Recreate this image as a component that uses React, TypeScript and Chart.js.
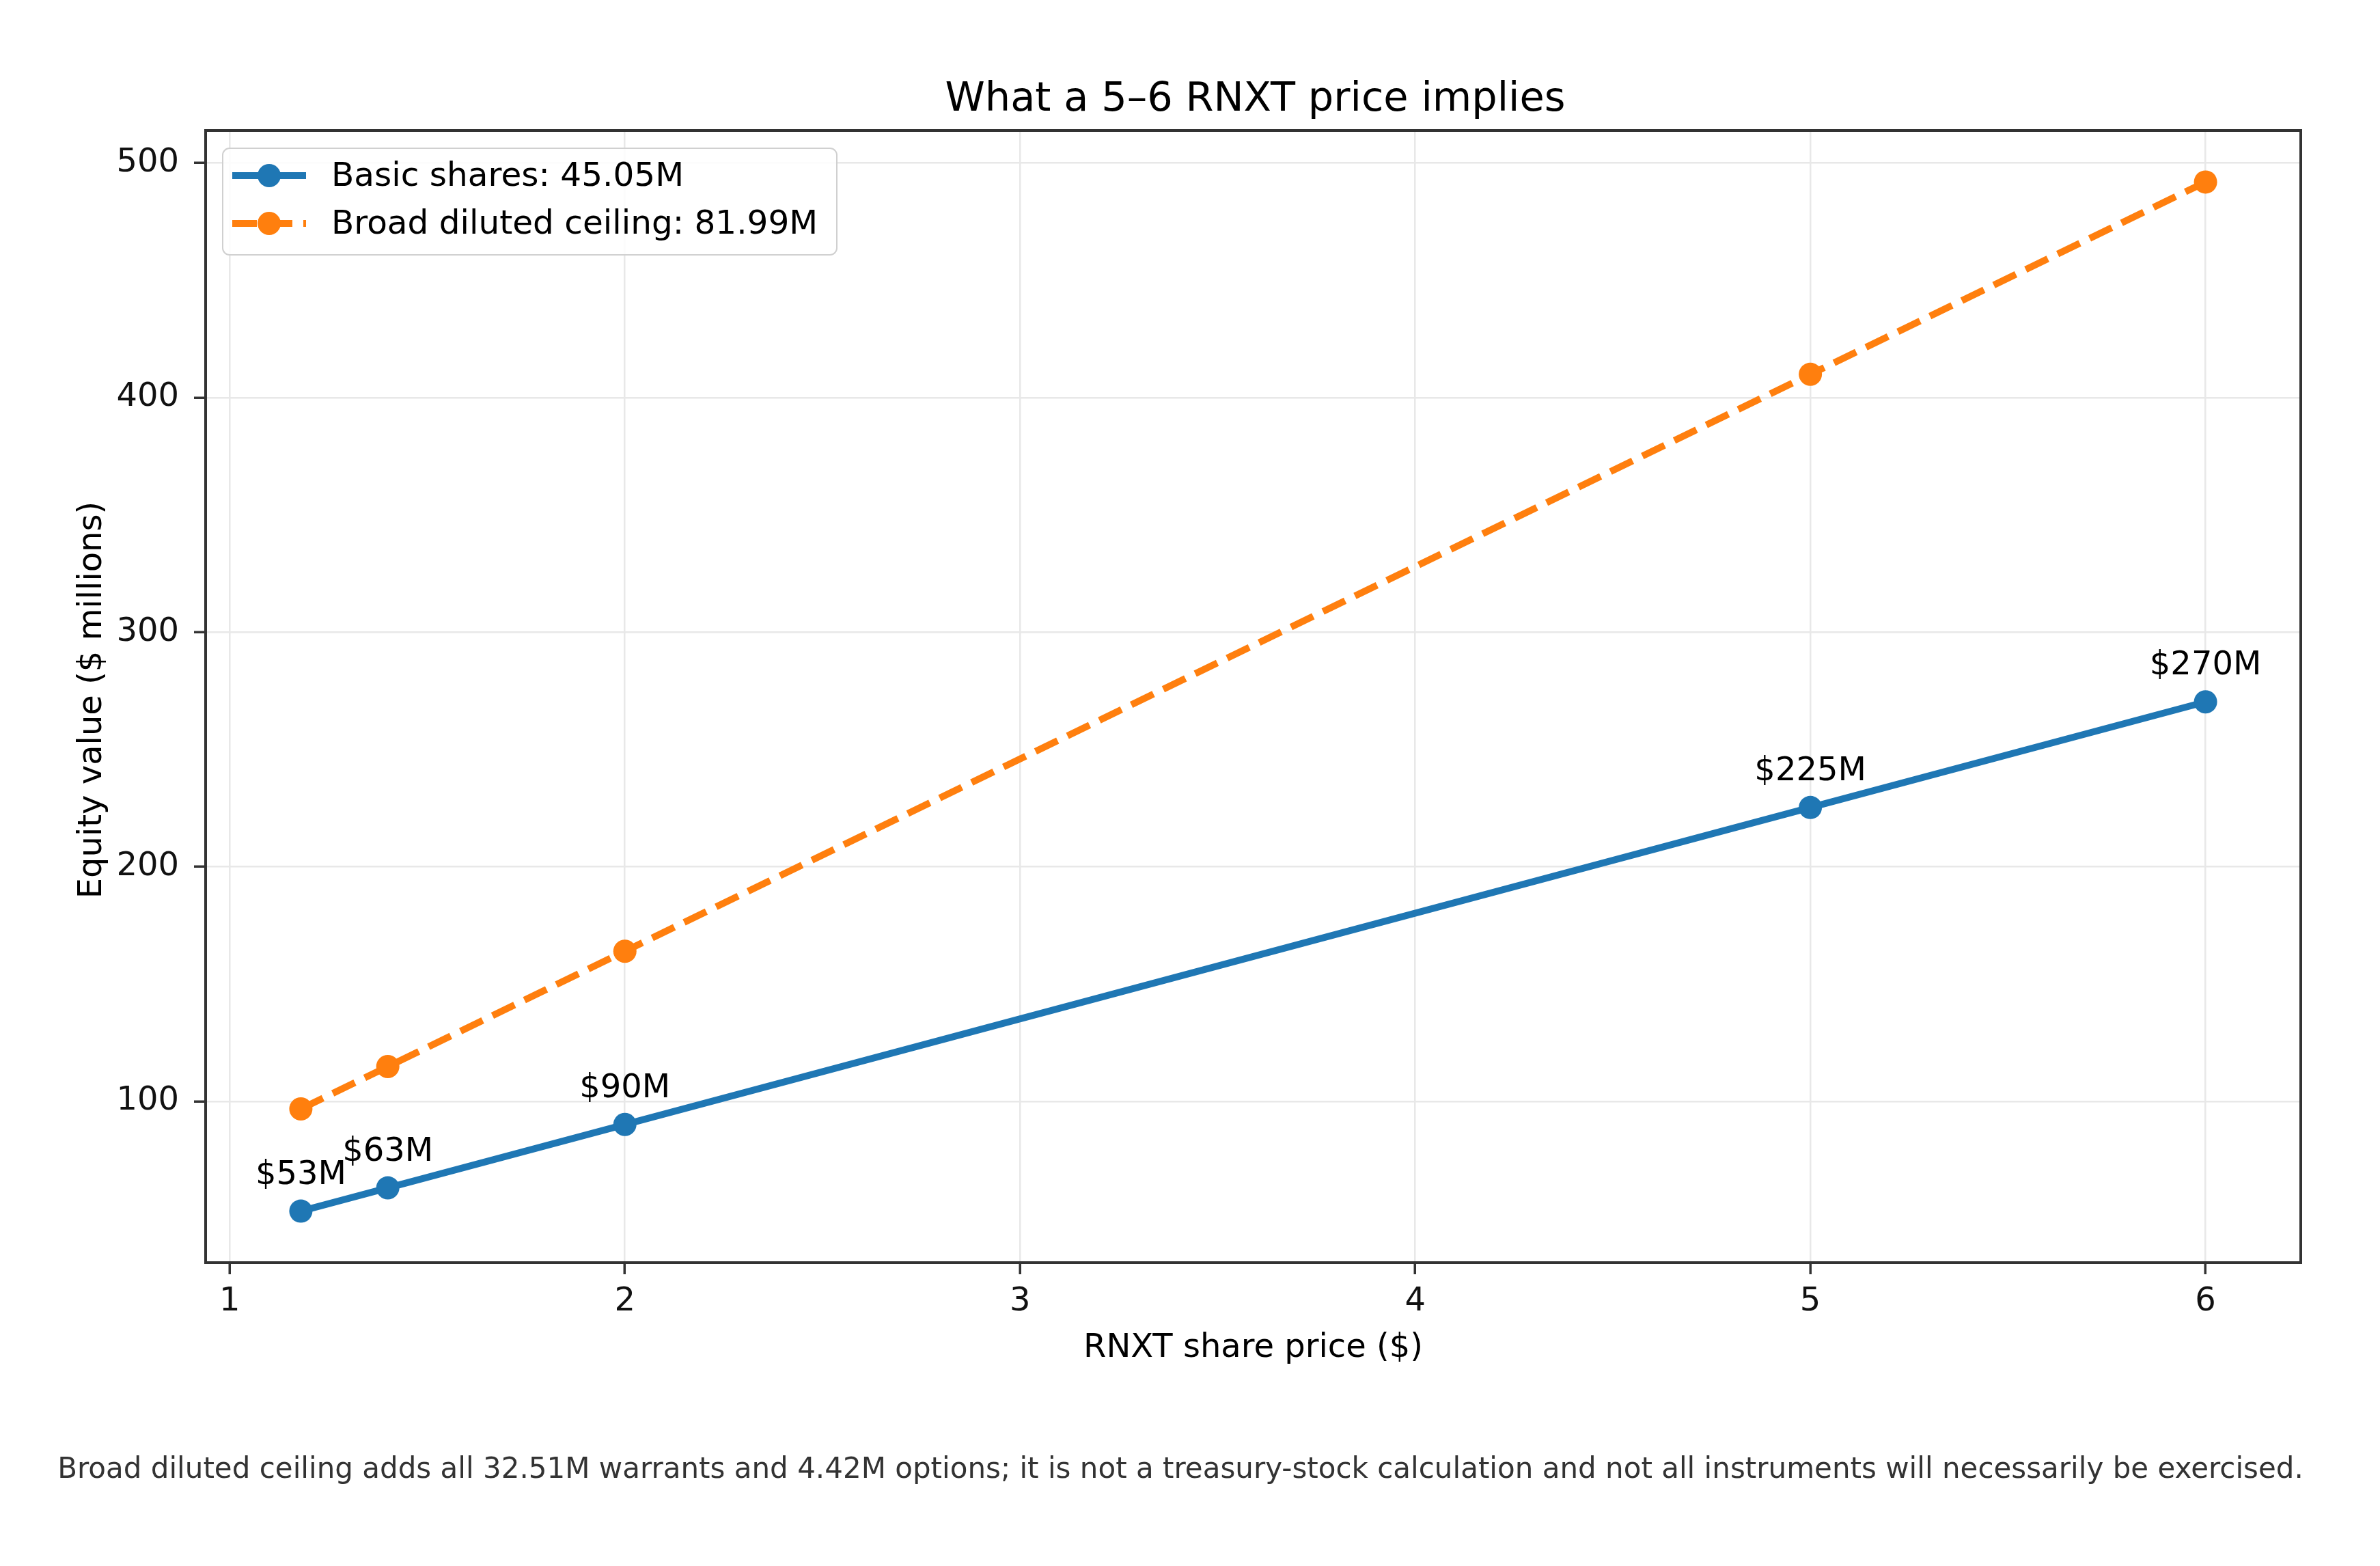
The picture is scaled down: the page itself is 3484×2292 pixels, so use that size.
import React, { useEffect, useRef } from 'react';
import { Chart, registerables } from 'chart.js';

Chart.register(...registerables);

// ---- content ----
const TITLE = 'What a 5–6 RNXT price implies';
const X_LABEL = 'RNXT share price ($)';
const Y_LABEL = 'Equity value ($ millions)';
const FOOTNOTE =
  'Broad diluted ceiling adds all 32.51M warrants and 4.42M options; it is not a treasury-stock calculation and not all instruments will necessarily be exercised.';

// ---- data ----
const SHARE_PRICES = [1.18, 1.4, 2, 5, 6];
const BASIC_VALUES = [53.16, 63.07, 90.1, 225.25, 270.3];
const DILUTED_VALUES = [96.75, 114.79, 163.98, 409.95, 491.94];
const BASIC_LABELS = ['$53M', '$63M', '$90M', '$225M', '$270M'];
const SERIES_NAMES = ['Basic shares: 45.05M', 'Broad diluted ceiling: 81.99M'];
const X_TICKS = [1, 2, 3, 4, 5, 6];
const Y_TICKS = [100, 200, 300, 400, 500];
const X_RANGE = [0.939, 6.241];
const Y_RANGE = [31.2, 513.9];

// ---- style ----
const W = 3484;
const H = 2292;
const FONT = '"DejaVu Sans", "Noto Sans", sans-serif';
const BLUE = '#1f77b4';
const ORANGE = '#ff7f0e';
const DASH = [36, 16];

const decorPlugin = {
  id: 'decor',
  afterDraw(chart: any) {
    const ctx: CanvasRenderingContext2D = chart.ctx;
    const a = chart.chartArea;
    const cx = (a.left + a.right) / 2;
    const cy = (a.top + a.bottom) / 2;
    ctx.save();

    // spines
    ctx.strokeStyle = '#333333';
    ctx.lineWidth = 4;
    ctx.setLineDash([]);
    ctx.strokeRect(a.left, a.top, a.right - a.left, a.bottom - a.top);

    // value labels above basic points
    ctx.fillStyle = '#000000';
    ctx.font = `48px ${FONT}`;
    ctx.textAlign = 'center';
    ctx.textBaseline = 'alphabetic';
    const meta = chart.getDatasetMeta(0);
    meta.data.forEach((pt: any, i: number) => {
      ctx.fillText(BASIC_LABELS[i], pt.x, pt.y - 40);
    });

    // title
    ctx.font = `59px ${FONT}`;
    ctx.fillText(TITLE, cx + 3, a.top - 29);

    // x label
    ctx.font = `48px ${FONT}`;
    ctx.fillText(X_LABEL, cx, a.bottom + 138);

    // y label
    ctx.save();
    ctx.translate(148, cy + 5);
    ctx.rotate(-Math.PI / 2);
    ctx.fillText(Y_LABEL, 0, 0);
    ctx.restore();

    // footnote
    ctx.fillStyle = '#333333';
    ctx.font = `42px ${FONT}`;
    ctx.fillText(FOOTNOTE, 1728, a.bottom + 315);

    // legend
    const bx = a.left + 25;
    const by = a.top + 26;
    const bw = 899;
    const bh = 156;
    const r = 10;
    ctx.beginPath();
    ctx.moveTo(bx + r, by);
    ctx.arcTo(bx + bw, by, bx + bw, by + bh, r);
    ctx.arcTo(bx + bw, by + bh, bx, by + bh, r);
    ctx.arcTo(bx, by + bh, bx, by, r);
    ctx.arcTo(bx, by, bx + bw, by, r);
    ctx.closePath();
    ctx.fillStyle = 'rgba(255,255,255,0.85)';
    ctx.fill();
    ctx.strokeStyle = '#d0d0d0';
    ctx.lineWidth = 2;
    ctx.stroke();

    const rows = [by + 40, by + 110];
    const colors = [BLUE, ORANGE];
    rows.forEach((ry, i) => {
      ctx.strokeStyle = colors[i];
      ctx.lineWidth = 10;
      ctx.lineCap = 'butt';
      ctx.setLineDash(i === 1 ? DASH : []);
      ctx.beginPath();
      ctx.moveTo(bx + 14, ry);
      ctx.lineTo(bx + 122, ry);
      ctx.stroke();
      ctx.setLineDash([]);
      ctx.fillStyle = colors[i];
      ctx.beginPath();
      ctx.arc(bx + 68, ry, 17, 0, Math.PI * 2);
      ctx.fill();
      ctx.fillStyle = '#000000';
      ctx.font = `48.5px ${FONT}`;
      ctx.textAlign = 'left';
      ctx.textBaseline = 'middle';
      ctx.fillText(SERIES_NAMES[i], bx + 159, ry + 2);
    });

    ctx.restore();
  },
};

export default function App() {
  const ref = useRef<HTMLCanvasElement | null>(null);

  useEffect(() => {
    document.body.style.margin = '0';
    document.body.style.background = '#ffffff';
    const canvas = ref.current;
    if (!canvas) return;

    const tickFont = { family: FONT, size: 48 };

    const chart = new Chart(canvas, {
      type: 'line',
      data: {
        datasets: [
          {
            label: SERIES_NAMES[0],
            data: SHARE_PRICES.map((x, i) => ({ x, y: BASIC_VALUES[i] })),
            borderColor: BLUE,
            backgroundColor: BLUE,
            pointBackgroundColor: BLUE,
            borderWidth: 10,
            pointRadius: 17,
            pointBorderWidth: 0,
            pointHoverRadius: 17,
            tension: 0,
            fill: false,
          },
          {
            label: SERIES_NAMES[1],
            data: SHARE_PRICES.map((x, i) => ({ x, y: DILUTED_VALUES[i] })),
            borderColor: ORANGE,
            backgroundColor: ORANGE,
            pointBackgroundColor: ORANGE,
            borderWidth: 10,
            borderDash: DASH,
            borderCapStyle: 'butt',
            pointRadius: 17,
            pointBorderWidth: 0,
            pointHoverRadius: 17,
            tension: 0,
            fill: false,
          },
        ],
      },
      options: {
        animation: false,
        responsive: false,
        maintainAspectRatio: false,
        devicePixelRatio: 1,
        events: [],
        layout: { padding: { top: 191, right: 116, left: 0, bottom: 0 } },
        plugins: {
          legend: { display: false },
          title: { display: false },
          tooltip: { enabled: false },
        },
        scales: {
          x: {
            type: 'linear',
            min: X_RANGE[0],
            max: X_RANGE[1],
            afterBuildTicks: (scale: any) => {
              scale.ticks = X_TICKS.map((v) => ({ value: v }));
            },
            afterFit: (scale: any) => {
              scale.height = 444;
            },
            grid: {
              color: '#e8e8e8',
              lineWidth: 2.5,
              tickLength: 17,
              tickColor: '#333333',
              tickWidth: 3.5,
            },
            border: { display: false },
            ticks: {
              font: tickFont,
              color: '#111111',
              padding: 12,
              maxRotation: 0,
              autoSkip: false,
              callback: (v: any) => String(v),
            },
          },
          y: {
            type: 'linear',
            min: Y_RANGE[0],
            max: Y_RANGE[1],
            afterBuildTicks: (scale: any) => {
              scale.ticks = Y_TICKS.map((v) => ({ value: v }));
            },
            afterFit: (scale: any) => {
              scale.width = 301;
            },
            grid: {
              color: '#e8e8e8',
              lineWidth: 2.5,
              tickLength: 17,
              tickColor: '#333333',
              tickWidth: 3.5,
            },
            border: { display: false },
            ticks: {
              font: tickFont,
              color: '#111111',
              padding: 22,
              autoSkip: false,
              callback: (v: any) => String(v),
            },
          },
        },
      },
      plugins: [decorPlugin],
    } as any);

    return () => {
      chart.destroy();
    };
  }, []);

  return (
    <div style={{ width: W, height: H, background: '#ffffff', overflow: 'hidden' }}>
      <canvas ref={ref} width={W} height={H} style={{ display: 'block', width: W, height: H }} />
    </div>
  );
}
